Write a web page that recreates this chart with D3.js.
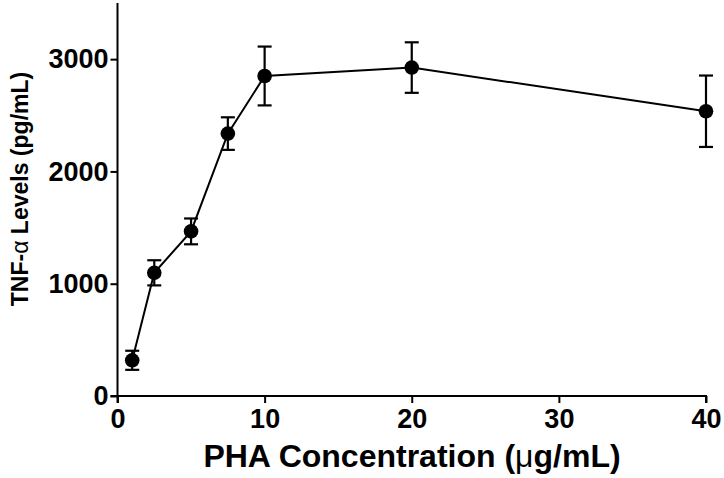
<!DOCTYPE html>
<html><head><meta charset="utf-8">
<script src="https://cdn.jsdelivr.net/npm/d3@7"></script>
<style>
body{margin:0;background:#fff;}
text{font-family:"Liberation Sans",Arial,sans-serif;font-weight:bold;fill:#000;}
</style></head>
<body><svg id="c" width="724" height="478"></svg>
<script>
const concentrations = [1, 2.5, 5, 7.5, 10, 20, 40];
const tnfMeans = [318, 1097, 1466, 2337, 2850, 2925, 2536];
const tnfErrors = [85, 112, 115, 145, 262, 225, 318];
const xTicks = [0, 10, 20, 30, 40];
const yTicks = [0, 1000, 2000, 3000];

const svg = d3.select("#c");
const x = d3.scaleLinear().domain([0, 40]).range([117.5, 706]);
const y = d3.scaleLinear().domain([0, 3500]).range([396, 3]);

const xAxis = svg.append("g").attr("transform", "translate(0,396)")
  .call(d3.axisBottom(x).tickValues(xTicks).tickSize(7).tickPadding(6).tickFormat(d3.format("d")));
const yAxis = svg.append("g").attr("transform", "translate(117.5,0)")
  .call(d3.axisLeft(y).tickValues(yTicks).tickSize(7).tickPadding(2).tickFormat(d3.format("d")));
[xAxis, yAxis].forEach(a => {
  a.select(".domain").attr("stroke", "#000").attr("stroke-width", 2);
  a.selectAll(".tick line").attr("stroke", "#000").attr("stroke-width", 2);
  a.selectAll(".tick text").style("font-size", "27px").style("font-family", "'Liberation Sans',Arial,sans-serif").style("font-weight", "bold");
});
xAxis.select(".domain").attr("d", `M${x(0)},7V0H${x(40)}V7`);
yAxis.select(".domain").attr("d", `M-7,${y(0)}H0V${y(3500)}`);

const pts = concentrations.map((c, i) => ({c, m: tnfMeans[i], e: tnfErrors[i]}));

svg.append("path").datum(pts)
  .attr("fill", "none").attr("stroke", "#000").attr("stroke-width", 2)
  .attr("d", d3.line().x(d => x(d.c)).y(d => y(d.m)));

const eb = svg.append("g").attr("stroke", "#000").attr("stroke-width", 2.2);
pts.forEach(d => {
  eb.append("line").attr("x1", x(d.c)).attr("x2", x(d.c)).attr("y1", y(d.m - d.e)).attr("y2", y(d.m + d.e));
  [d.m - d.e, d.m + d.e].forEach(v => {
    eb.append("line").attr("x1", x(d.c) - 7).attr("x2", x(d.c) + 7).attr("y1", y(v)).attr("y2", y(v));
  });
});

svg.append("g").selectAll("circle").data(pts).join("circle")
  .attr("cx", d => x(d.c)).attr("cy", d => y(d.m)).attr("r", 7.3).attr("fill", "#000");

const xt = svg.append("text").attr("x", 412).attr("y", 467).attr("text-anchor", "middle").style("font-size", "32px");
xt.append("tspan").text("PHA Concentration (");
xt.append("tspan").style("font-weight", "normal").text("μ");
xt.append("tspan").text("g/mL)");

const yt = svg.append("text").attr("transform", "translate(28,189) rotate(-90)").attr("text-anchor", "middle").style("font-size", "23px");
yt.append("tspan").text("TNF-");
yt.append("tspan").style("font-weight", "normal").text("α");
yt.append("tspan").text(" Levels (pg/mL)");
</script></body></html>
